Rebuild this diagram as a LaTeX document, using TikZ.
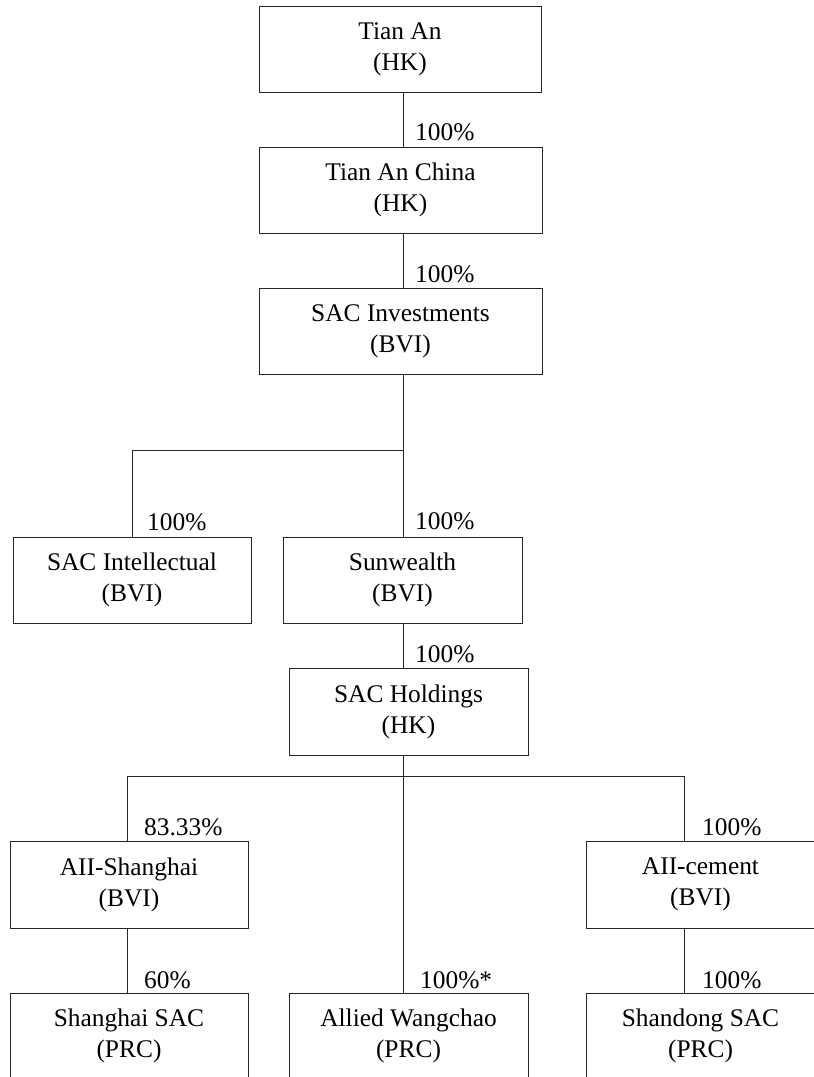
\documentclass[tikz,border=0pt]{standalone}
\usepackage{fontspec}
\setmainfont{Liberation Serif}
\usepackage{tikz}
\usetikzlibrary{positioning,calc}
\newcommand{\firmfont}{\fontsize{25.4}{31}\selectfont}
\tikzset{
  firm/.style={draw=black!85,line width=1pt,align=center,inner sep=0pt,outer sep=0pt,minimum height=86pt,font=\firmfont},
  link/.style={draw=black!85,line width=1pt},
  pct/.style={anchor=west,inner sep=0pt,font=\firmfont}
}

\begin{document}
\begin{tikzpicture}[x=1pt,y=-1pt]
  \clip (0,0) rectangle (814,1077);
  \coordinate (trunk) at (403,0);
  \coordinate (leftleg) at (127,0);
  \coordinate (rightleg) at (684,0);
  \node[firm,minimum width=282pt] (tianan) at (400,49) {Tian An\\(HK)};
  \node[firm,minimum width=283pt] (tachina) at (400.5,190) {Tian An China\\(HK)};
  \node[firm,minimum width=283pt] (sacinv) at (400.5,331) {SAC Investments\\(BVI)};
  \node[firm,minimum width=238pt] (sacintel) at (132,580) {SAC Intellectual\\(BVI)};
  \node[firm,minimum width=239pt] (sunwealth) at (402.5,580) {Sunwealth\\(BVI)};
  \node[firm,minimum width=239pt,minimum height=87pt] (sachold) at (408.5,711.5) {SAC Holdings\\(HK)};
  \node[firm,minimum width=238pt,minimum height=87pt] (aiish) at (129,884.5) {AII-Shanghai\\(BVI)};
  \node[firm,minimum width=229pt,minimum height=87pt] (aiicem) at (700.5,884.5) {AII-cement\\(BVI)};
  \node[firm,minimum width=238pt] (shsac) at (129,1036) {Shanghai SAC\\(PRC)};
  \node[firm,minimum width=239pt] (allied) at (408.5,1036) {Allied Wangchao\\(PRC)};
  \node[firm,minimum width=229pt] (sdsac) at (700.5,1036) {Shandong SAC\\(PRC)};
  \coordinate (split1) at (403,450);
  \coordinate (split2) at (403,776);
  \draw[link] (tianan.south -| trunk) -- (tachina.north -| trunk);
  \draw[link] (tachina.south -| trunk) -- (sacinv.north -| trunk);
  \draw[link] (sacinv.south -| trunk) -- (sunwealth.north -| trunk);
  \draw[link] (split1) -| (sacintel.north);
  \draw[link] (sunwealth.south -| trunk) -- (sachold.north -| trunk);
  \draw[link] (sachold.south -| trunk) -- (allied.north -| trunk);
  \draw[link] (aiish.north -| leftleg) -- (leftleg |- split2) -- (rightleg |- split2) -- (aiicem.north -| rightleg);
  \draw[link] (aiish.south -| leftleg) -- (shsac.north -| leftleg);
  \draw[link] (aiicem.south -| rightleg) -- (sdsac.north -| rightleg);
  \foreach \px/\py/\txt [count=\i] in {415/132/100\%,415/274/100\%,147/522/100\%,415/521/100\%,415/654/100\%,
    144/827/83.33\%,702/827/100\%,144/980/60\%,420/980/100\%*,702/980/100\%}
    \node[pct] (pct\i) at (\px,\py) {\txt};
\end{tikzpicture}
\end{document}
